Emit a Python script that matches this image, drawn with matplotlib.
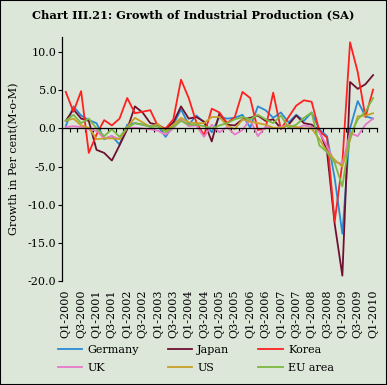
import numpy as np
import matplotlib
matplotlib.use('Agg')
import matplotlib.pyplot as plt
from matplotlib.patches import Rectangle

# Quarterly M-o-M growth, Q1-2000 .. Q1-2010 (41 quarters)
years = list(range(2000, 2011))
quarters = [f"Q{q}-{y}" for y in years for q in (1, 2, 3, 4)][:41]
tick_labels = quarters[::2]

germany = [0.3, 2.9, 1.7, 1.1, 0.7, -1.4, -1.0, -2.1, 0.5, 0.7, 0.5, 0.3, 0.3, -1.1,
           0.5, 2.5, 0.5, 1.7, 0.8, -0.5, 1.5, 1.3, 1.4, 1.8, 0.1, 2.9, 2.4, 1.4, 2.1,
           0.8, 1.8, 1.0, 2.1, -0.1, -1.0, -6.5, -13.8, 0.0, 3.6, 1.6, 1.3]
japan = [1.0, 2.5, 1.3, 1.0, -2.8, -3.2, -4.2, -2.2, -0.1, 2.9, 2.1, 0.7, 0.5, -0.1,
         0.8, 2.9, 1.3, 1.5, 0.9, -1.7, 2.0, 0.5, 0.4, 1.2, 1.4, 1.7, 1.0, 1.2, 0.0,
         0.5, 1.7, 0.7, 0.5, -0.2, -3.0, -12.5, -19.3, 6.1, 5.2, 5.8, 7.0]
korea = [4.8, 2.2, 4.9, -3.2, -0.8, 1.1, 0.4, 1.3, 4.0, 2.0, 2.2, 2.4, 0.3, 0.0,
         1.2, 6.4, 4.0, 0.8, -0.9, 2.6, 2.1, 0.7, 1.5, 4.8, 4.0, -0.2, 0.0, 4.7, -0.1,
         1.5, 3.0, 3.7, 3.5, -0.3, -1.2, -12.2, -4.5, 11.3, 7.4, 1.5, 5.1]
uk = [0.2, 0.3, 0.2, -0.1, -0.3, -1.3, -1.0, -1.4, 0.1, 0.1, 0.0, -0.1, -0.3, -0.8,
      0.0, 1.2, 0.3, 0.4, -1.1, 0.5, -0.5, 0.2, -0.8, -0.2, 1.2, -1.0, 0.2, 0.0, 0.2,
      0.5, 0.0, 0.4, 0.2, -0.5, -2.3, -4.4, -4.6, -0.6, -1.0, 0.5, 1.3]
us = [1.0, 1.3, 0.4, 0.1, -1.4, -1.3, -1.3, -1.4, 0.2, 1.4, 0.8, 0.2, 0.6, -0.4,
      0.5, 1.4, 0.8, 0.7, 0.7, 1.5, 1.5, 0.4, -0.1, 1.2, 0.9, 0.7, 0.5, 0.1, 0.1,
      0.4, 0.2, 0.0, 0.0, -1.4, -3.0, -4.1, -5.0, -1.5, 1.6, 1.7, 2.0]
eu_area = [1.0, 1.8, 0.7, 1.3, 0.0, -1.0, -0.1, -1.1, 0.1, 0.7, 0.5, 0.2, 0.3, -0.5,
           0.2, 1.0, 0.5, 0.5, 0.3, 0.0, 0.4, 0.7, 1.2, 1.5, 1.2, 1.8, 1.2, 0.7, 1.7,
           0.1, 0.5, 1.4, 2.1, -2.2, -3.1, -4.5, -7.6, -1.0, 1.2, 2.2, 4.0]

series = [
    ('Germany', germany, '#2a8ad4'),
    ('Japan', japan, '#6e1030'),
    ('Korea', korea, '#ff2020'),
    ('UK', uk, '#e878c8'),
    ('US', us, '#c8a028'),
    ('EU area', eu_area, '#7cb842'),
]

bg = '#dde7d9'
plt.rcParams['font.family'] = 'DejaVu Serif'

fig = plt.figure(figsize=(3.87, 3.85), dpi=100, facecolor=bg)
ax = fig.add_axes([0.160, 0.270, 0.814, 0.634], facecolor=bg)

x = np.arange(len(quarters))
handles = {}
for name, vals, col in series:
    (h,) = ax.plot(x, vals, color=col, lw=1.3, label=name)
    handles[name] = h

ax.set_xlim(-0.5, len(quarters) - 0.5)
ax.set_ylim(-20, 12)
ax.set_yticks(np.arange(-20, 11, 5))
ax.set_yticklabels([f"{v:.1f}" for v in np.arange(-20, 11, 5)], fontsize=8)
ax.tick_params(axis='y', length=3, width=0.8, pad=1)

# horizontal axis crosses at zero, tick marks between categories
for s in ('top', 'right'):
    ax.spines[s].set_visible(False)
ax.spines['bottom'].set_position(('data', 0))
ax.spines['left'].set_linewidth(0.9)
ax.spines['bottom'].set_linewidth(0.9)
ax.set_xticks(np.arange(-0.5, len(quarters), 1))
ax.set_xticklabels([])
ax.tick_params(axis='x', length=3, width=0.8, direction='out')

# category labels placed low, below the plot
sec = ax.secondary_xaxis(0)
sec.set_xticks(x[::2])
sec.set_xticklabels(tick_labels, rotation=90, fontsize=8)
sec.tick_params(length=0, pad=6)
sec.spines['bottom'].set_visible(False)

ax.set_ylabel('Growth in Per cent(M-o-M)', fontsize=8, labelpad=6)

fig.text(0.5, 0.962, 'Chart III.21: Growth of Industrial Production (SA)',
         ha='center', va='center', fontsize=8.2, fontweight='bold')

order = ['Germany', 'UK', 'Japan', 'US', 'Korea', 'EU area']
fig.legend([handles[n] for n in order], order, ncol=3, loc='upper left',
           bbox_to_anchor=(0.150, 0.103), frameon=False, fontsize=8,
           handlelength=2.2, handletextpad=0.45, columnspacing=2.6,
           labelspacing=0.65, borderaxespad=0, borderpad=0)

fig.patches.append(Rectangle((0, 0), 1, 1, transform=fig.transFigure,
                             fill=False, edgecolor='black', lw=1.5))

fig.savefig('out.png', dpi=100, facecolor=bg)
